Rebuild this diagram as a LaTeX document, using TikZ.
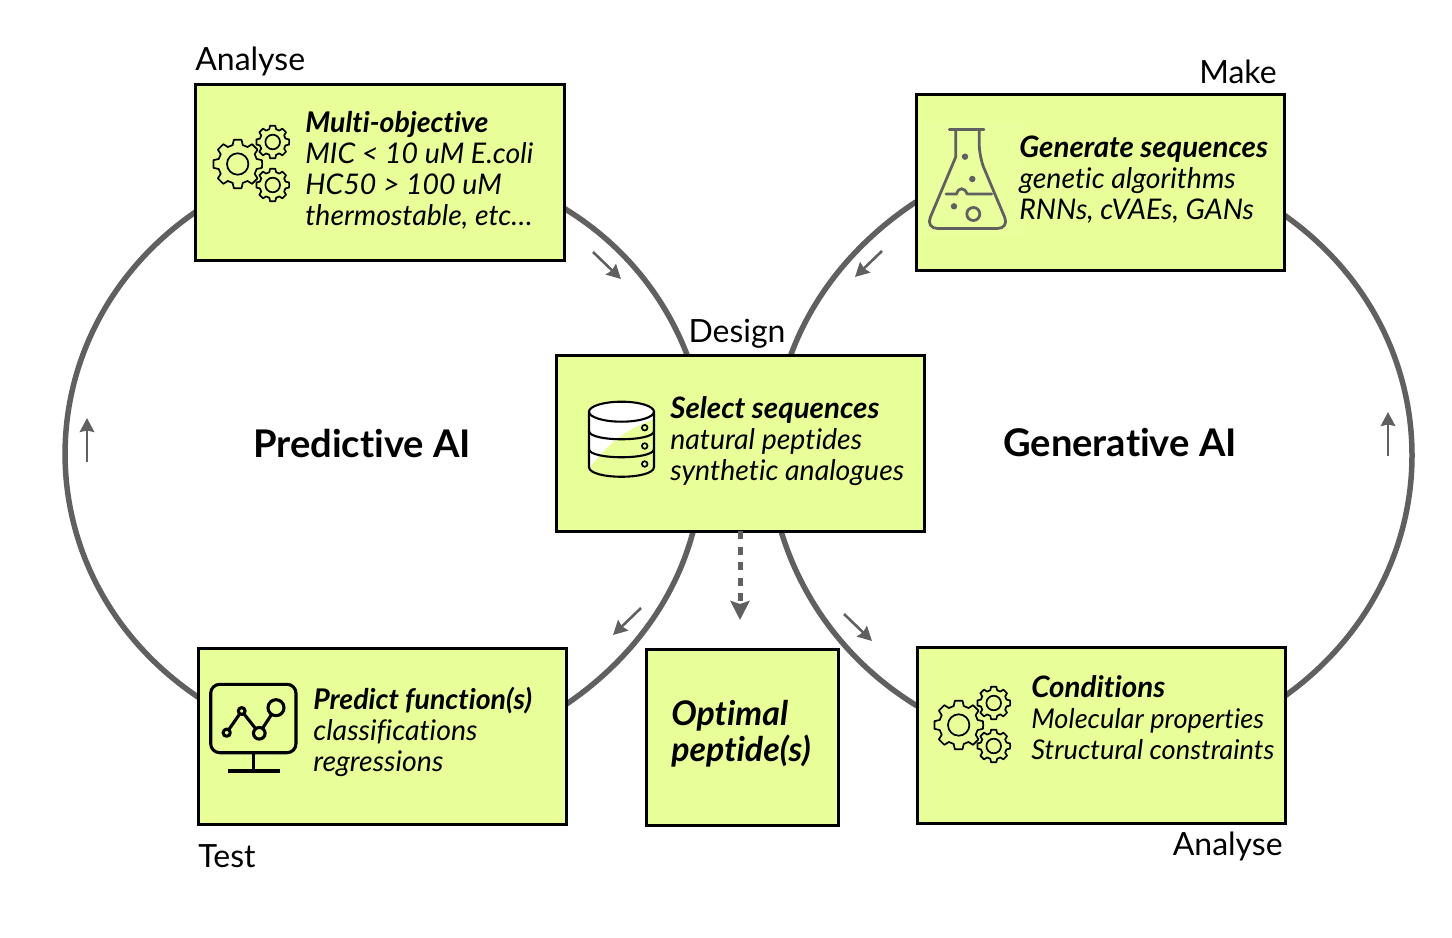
\documentclass[tikz,border=0pt]{standalone}
\usepackage{fontspec}
\setmainfont{Lato}[Ligatures=NoCommon]
\usetikzlibrary{arrows.meta, backgrounds}
\definecolor{boxCol}{HTML}{E8FF99}
\definecolor{ringCol}{HTML}{606060}
\newcommand{\widehead}[1]{{\fontsize{16.8}{17.6}\selectfont\bfseries #1}}

\begin{document}
\begin{tikzpicture}[
    x=0.2mm, y=-0.2mm,
    stage/.style={rectangle, draw=black, fill=boxCol, line width=0.6mm, minimum width=73.6mm, minimum height=35.2mm, inner sep=0pt, outer sep=0pt},
    body/.style={anchor=north west, align=left, inner sep=0pt, font=\fontsize{16.2}{17.6}\selectfont\itshape},
    tag/.style={inner sep=0pt, font=\fontsize{18.2}{20}\selectfont},
    loopname/.style={inner sep=0pt, font=\fontsize{21.7}{24}\selectfont\bfseries},
    ring/.style={draw=ringCol, line width=1.1mm},
    flow/.style={-{Stealth[length=2.8mm, width=2.9mm, inset=0.3mm]}, draw=ringCol, line width=0.52mm},
    outflow/.style={-{Stealth[length=3.8mm, width=3.8mm, inset=0.6mm]}, draw=ringCol, line width=1mm, dash pattern=on 1.6mm off 1.5mm},
    icon/.style={draw=black, line width=0.34mm},
    dbline/.style={draw=black, line width=0.42mm},
    pics/gearwheel/.style n args={2}{code={
        \draw[icon, line join=round] (0:#1)
            \foreach \a in {0,45,...,315} {
                -- (\a+9:#1) -- (\a+15:#1*0.8) -- (\a+30:#1*0.8) -- (\a+36:#1)
            } -- cycle;
        \draw[icon] (0,0) circle[radius=#2];
    }},
    pics/gearset/.style={code={
        \pic at (0,0) {gearwheel={24.5}{10.7}};
        \pic at (35,-22) {gearwheel={16.5}{7.3}};
        \pic at (35,21) {gearwheel={16.5}{7.3}};
    }}
]

\useasboundingbox (0,0) rectangle (1452,938);

% boxes
\node[stage] (ANALYSE) at (380,172.5) {};
\node[stage] (MAKE) at (1100,182.5) {};
\node[stage] (DESIGN) at (740,443) {};
\node[stage] (TEST) at (382.5,736.5) {};
\node[stage] (COND) at (1101,735) {};
\node[stage, minimum width=38.4mm] (OPTIMAL) at (742,737.5) {};

% labels
\node[tag, anchor=west] (lANALYSE) at (195,61) {Analyse};
\node[tag, anchor=east] (lMAKE) at (1277,72) {Make};
\node[tag] (lDESIGN) at (737,334) {Design};
\node[tag, anchor=west] (lTEST) at (198,856) {Test};
\node[tag, anchor=east] (lCOND) at (1283,846) {Analyse};
\node[loopname] (PRED) at (362,443) {Predictive AI};
\node[loopname] (GEN) at (1120,443) {Generative AI};

% icons
\pic at (237.7,164) {gearset};
\pic at (958.7,725) {gearset};

% flask
\fill[boxCol!95!white] (918,122) rectangle (1024,236);
\begin{scope}[draw=ringCol, line width=0.55mm, line cap=round, line join=round]
    \draw (949.3,129.3) -- (984,129.3);
    \draw (955.7,129.3) -- (955.7,157) [rounded corners=2.4mm] -- (925.6,228.5) -- (1009.4,228.5) -- (979.3,157) [sharp corners] -- (979.3,129.3);
    \draw (946,194) -- (956.7,194) .. controls (958,187) and (965,187) .. (967,194) -- (991.7,194);
    \draw (973.3,214) circle[radius=6.5];
\end{scope}
\fill[ringCol] (965,156.7) circle[radius=3.2] (972.3,179) circle[radius=3.2] (954,206.3) circle[radius=3.2];

% database
\path[fill=white] (589,411.7) -- (589,467) .. controls (589,480) and (654,480) .. (654,467) -- (654,411.7) -- cycle;
\path[fill=white] (621.5,411.7) ellipse[x radius=32.5, y radius=10];
\begin{scope}
    \clip (589,411.7) -- (589,467) .. controls (589,480) and (654,480) .. (654,467) -- (654,411.7) -- cycle;
    \fill[boxCol] (652,420) .. controls (630,428) and (608,442) .. (588,470) -- (588,490) -- (660,490) -- (660,420) -- cycle;
\end{scope}
\draw[dbline] (621.5,411.7) ellipse[x radius=32.5, y radius=10];
\draw[dbline] (589,411.7) -- (589,467) .. controls (589,480) and (654,480) .. (654,467) -- (654,411.7);
\foreach \y in {431,449}
    \draw[dbline] (589,\y) .. controls (589,\y+11) and (654,\y+11) .. (654,\y);
\foreach \y in {427.7,446,464}
    \draw[icon, fill=boxCol] (644.7,\y) circle[radius=2.8];

% monitor
\begin{scope}[line width=0.62mm, line join=round]
    \draw[rounded corners=1.8mm] (210.7,684.3) rectangle (296,752.7);
    \draw (253.3,752.7) -- (253.3,771);
    \draw (227.7,771) -- (280,771);
    \draw (226.7,732.7) -- (241.7,711) -- (259.3,733.3) -- (276,707.7);
    \draw[fill=boxCol] (226.7,732.7) circle[radius=3.6];
    \draw[fill=boxCol] (241.7,711) circle[radius=3.4];
    \draw[fill=boxCol] (259.3,733.3) circle[radius=5.8];
    \draw[fill=boxCol] (276,707.7) circle[radius=8];
\end{scope}

% box texts
\node[body] (tANALYSE) at (305,111) {\textbf{Multi-objective}\\MIC < 10 uM E.coli\\HC50 > 100 uM\\thermostable, etc\dots};
\node[body] (tMAKE) at (1019,136) {\widehead{Generate sequences}\\genetic algorithms\\RNNs, cVAEs, GANs};
\node[body] (tDESIGN) at (670,396) {\widehead{Select sequences}\\natural peptides\\synthetic analogues};
\node[body] (tTEST) at (313,687) {\textbf{Predict function(s)}\\classifications\\regressions};
\node[body, font=\fontsize{15.5}{17.6}\selectfont\itshape] (tCOND) at (1031,675) {\widehead{Conditions}\\Molecular properties\\Structural constraints};
\node[body, font=\fontsize{19.3}{20.4}\selectfont\itshape\bfseries] (tOPTIMAL) at (671,700) {Optimal\\peptide(s)};

% free ends of the small arrows
\coordinate (a1) at (593,252); \coordinate (b1) at (621,279);
\coordinate (a2) at (882,251); \coordinate (b2) at (855,277);
\coordinate (a3) at (641,608); \coordinate (b3) at (613,635);
\coordinate (a4) at (844,614); \coordinate (b4) at (872,641);
\coordinate (a5) at (87,462); \coordinate (b5) at (87,418);
\coordinate (a6) at (1388,456); \coordinate (b6) at (1388,412);
\coordinate (dashEnd) at (740,620);

\foreach \i in {1,...,6}
    \draw[flow] (a\i) -- (b\i);
\draw[outflow] (DESIGN.south -| dashEnd) -- (dashEnd);

\begin{scope}[on background layer]
    % predictive ring
    \draw[ring] (TEST.168.2) .. controls (21,577.9) and (21,332.1) .. (ANALYSE.192.2);
    \draw[ring] (ANALYSE.349.4) .. controls (621.4,243) and (664,294.7) .. (DESIGN.121.1);
    \draw[ring] (DESIGN.242.7) .. controls (674.8,600.9) and (629.5,661.1) .. (TEST.10.9);
    % generative ring
    \draw[ring] (MAKE.186.7) .. controls (858.1,240) and (813.6,292.9) .. (DESIGN.60.4);
    \draw[ring] (DESIGN.295.9) .. controls (803,603.7) and (850.8,665.5) .. (COND.171);
    \draw[ring] (COND.12.4) .. controls (1454.8,574.2) and (1454.2,334.7) .. (MAKE.350);
\end{scope}

\end{tikzpicture}
\end{document}
